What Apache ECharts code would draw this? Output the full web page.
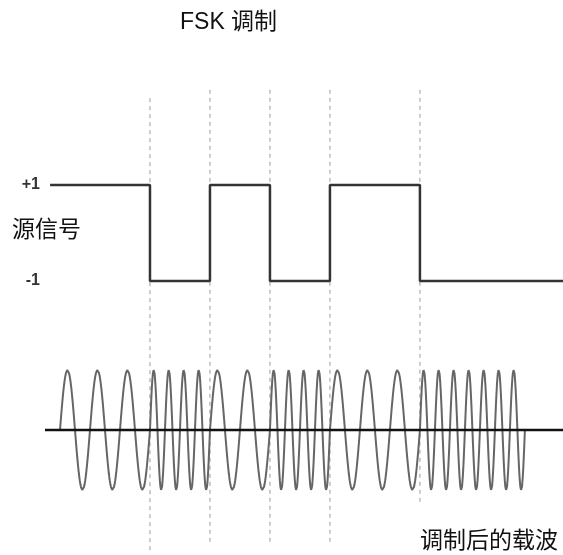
<!DOCTYPE html>
<html>
<head>
<meta charset="utf-8">
<script src="https://cdn.jsdelivr.net/npm/echarts@6/dist/echarts.min.js"></script>
<style>
html,body{margin:0;padding:0;background:#fff;}
#chart{width:563px;height:555px;}
</style>
</head>
<body>
<div id="chart"></div>
<script>
// Time unit = one period of the low-frequency carrier.
var titleText = 'FSK 调制';
var sourceLabel = '源信号';
var carrierLabel = '调制后的载波';
var levelLabels = ['-1', '+1'];

// Source signal (square wave): bit boundaries and levels
var bitEdges = [-0.33, 3, 5, 7, 9, 12, 16.77];
var bitLevels = [1, -1, 1, -1, 1, -1];

// Modulated carrier: segment boundaries and frequency (cycles per time unit)
var carrierEdges = [0, 3, 5, 7, 9, 12, 15.5];
var carrierFreqs = [1, 2, 1, 2, 1, 2];

// Bit boundaries marked with dashed guides
var boundaries = [3, 5, 7, 9, 12];

// build square-wave points
var squareData = [];
for (var i = 0; i < bitLevels.length; i++) {
  squareData.push([bitEdges[i], bitLevels[i]]);
  squareData.push([bitEdges[i + 1], bitLevels[i]]);
}

// build carrier waveform (continuous phase FSK)
var carrierData = [];
var phase = 0, dt = 0.01;
for (var s = 0; s < carrierFreqs.length; s++) {
  var t0 = carrierEdges[s], t1 = carrierEdges[s + 1];
  var n = Math.round((t1 - t0) / dt);
  for (var k = (s === 0 ? 0 : 1); k <= n; k++) {
    var t = t0 + k * dt;
    var ph = phase + 2 * Math.PI * carrierFreqs[s] * (t - t0);
    carrierData.push([t, Math.sin(ph)]);
  }
  phase += 2 * Math.PI * carrierFreqs[s] * (t1 - t0);
}

// dashed guides (in carrier-grid units), vertical extents per line
var guideTop = [5.53, 5.67, 5.67, 5.67, 5.67];
var guideBottom = [-2.03, -1.88, -1.88, -1.88, -1.22];
var guideData = [];
for (var g = 0; g < boundaries.length; g++) {
  guideData.push([boundaries[g], guideTop[g]]);
  guideData.push([boundaries[g], guideBottom[g]]);
  guideData.push([boundaries[g], null]);
}

var xMin = -0.5, xMax = 16.77;
var fontFam = '"Liberation Sans", "Noto Sans CJK SC", sans-serif';

var chart = echarts.init(document.getElementById('chart'), null, {renderer: 'canvas'});
chart.setOption({
  animation: false,
  backgroundColor: '#fff',
  title: [
    {text: titleText, left: 180, top: 11, padding: 0,
     textStyle: {fontFamily: fontFam, fontSize: 23, fontWeight: 'normal', color: '#111'}},
    {text: sourceLabel, left: 12, top: 219, padding: 0,
     textStyle: {fontFamily: fontFam, fontSize: 23, fontWeight: 'normal', color: '#111'}},
    {text: carrierLabel, left: 420, top: 530, padding: 0,
     textStyle: {fontFamily: fontFam, fontSize: 23, fontWeight: 'normal', color: '#111'}}
  ],
  grid: [
    {left: 45, right: 0, top: 185, height: 96},
    {left: 45, right: 0, top: 370, height: 120}
  ],
  xAxis: [
    {gridIndex: 0, type: 'value', min: xMin, max: xMax, show: false},
    {gridIndex: 1, type: 'value', min: xMin, max: xMax, show: false}
  ],
  yAxis: [
    {gridIndex: 0, type: 'value', min: -1, max: 1, interval: 2,
     axisLine: {show: false}, axisTick: {show: false}, splitLine: {show: false},
     axisLabel: {margin: 5, fontFamily: fontFam, fontSize: 16, fontWeight: 'bold', color: '#333',
       formatter: function (v) { return v > 0 ? levelLabels[1] : levelLabels[0]; }}},
    {gridIndex: 1, type: 'value', min: -1, max: 1, show: false}
  ],
  series: [
    {type: 'line', xAxisIndex: 1, yAxisIndex: 1, data: guideData, clip: false, silent: true,
     symbol: 'none', connectNulls: false, z: 1,
     lineStyle: {color: '#999', width: 1, type: [4, 4]}},
    {type: 'line', xAxisIndex: 0, yAxisIndex: 0, data: squareData, clip: false, symbol: 'none', z: 3,
     lineStyle: {color: '#333', width: 2.5}},
    {type: 'line', xAxisIndex: 1, yAxisIndex: 1, data: carrierData, clip: false, symbol: 'none', z: 2,
     lineStyle: {color: '#666', width: 2}},
    {type: 'line', xAxisIndex: 1, yAxisIndex: 1, data: [[xMin, 0], [xMax, 0]], clip: false, symbol: 'none', z: 4,
     lineStyle: {color: '#111', width: 2.5}}
  ]
});
</script>
</body>
</html>
